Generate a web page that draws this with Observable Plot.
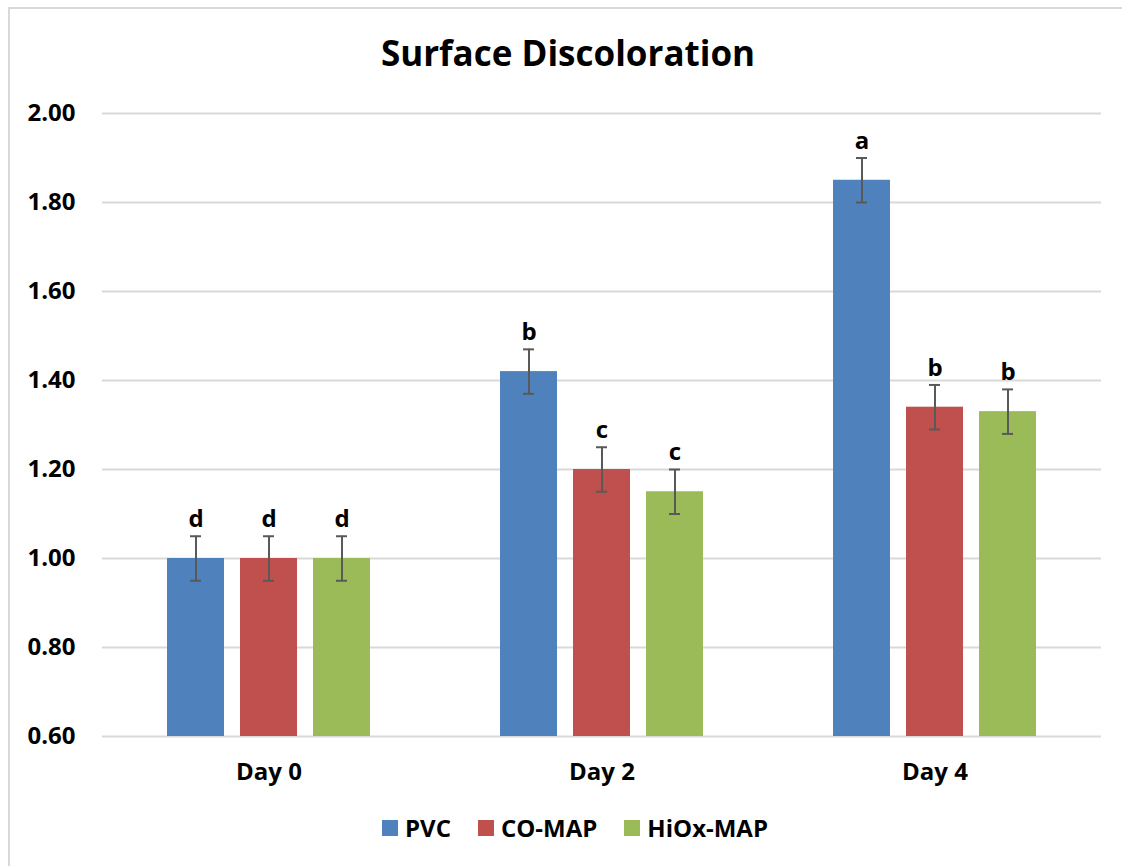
<!DOCTYPE html>
<html>
<head>
<meta charset="utf-8">
<script src="https://cdn.jsdelivr.net/npm/d3@7"></script>
<script src="https://cdn.jsdelivr.net/npm/@observablehq/plot@0.6"></script>
<style>
  html, body { margin: 0; padding: 0; background: #fff; }
  body { width: 1122px; height: 866px; position: relative; overflow: hidden; font-family: "Open Sans", sans-serif; }
  #frame { position: absolute; left: 8px; top: 7px; right: -5px; bottom: -5px; border-top: 2px solid #d9d9d9; border-left: 2px solid #d9d9d9; }
  #title { position: absolute; left: 0; width: 1136px; top: 29px; text-align: center; font-weight: 700; font-size: 35px; color: #000; }
  #chart { position: absolute; left: 0; top: 0; }
  #legend { position: absolute; top: 811px; left: 0; width: 1122px; display: flex; justify-content: center; gap: 27px; font-weight: 700; font-size: 24px; margin-left: 14px; }
  #legend .item { display: flex; align-items: center; }
  #legend .sw { width: 16px; height: 16px; margin-right: 7px; }
</style>
</head>
<body>
<div id="frame"></div>
<div id="chart"></div>
<div id="title">Surface Discoloration</div>
<div id="legend"></div>
<script>
const days = ["Day 0", "Day 2", "Day 4"];
const series = ["PVC", "CO-MAP", "HiOx-MAP"];
const colors = ["#4F81BD", "#C0504D", "#9BBB59"];
const pvc = [1.00, 1.42, 1.85];
const coMap = [1.00, 1.20, 1.34];
const hiOx = [1.00, 1.15, 1.33];
const errPvc = [0.05, 0.05, 0.05];
const errCo = [0.05, 0.05, 0.05];
const errHi = [0.05, 0.05, 0.05];
const lettersPvc = ["d", "b", "a"];
const lettersCo = ["d", "c", "b"];
const lettersHi = ["d", "c", "b"];
const yTicks = [0.6, 0.8, 1.0, 1.2, 1.4, 1.6, 1.8, 2.0];

const valueSets = [pvc, coMap, hiOx];
const errSets = [errPvc, errCo, errHi];
const letterSets = [lettersPvc, lettersCo, lettersHi];
const data = [];
days.forEach((d, i) => {
  series.forEach((s, j) => {
    data.push({day: d, series: s, value: valueSets[j][i], err: errSets[j][i], letter: letterSets[j][i]});
  });
});

const plot = Plot.plot({
  width: 1122,
  height: 790,
  marginLeft: 101,
  marginRight: 20,
  marginTop: 113,
  marginBottom: 54,
  style: {fontFamily: "'Open Sans', sans-serif", background: "transparent"},
  fx: {domain: days, padding: 0, label: null},
  x: {domain: series, axis: null, paddingInner: 0.216, paddingOuter: 0.864},
  y: {domain: [0.6, 2.0], label: null},
  color: {domain: series, range: colors},
  marks: [
    Plot.ruleY(yTicks, {stroke: "#d9d9d9", strokeWidth: 2}),
    Plot.barY(data, {fx: "day", x: "series", y1: 0.6, y2: "value", fill: "series"}),
    Plot.ruleX(data, {fx: "day", x: "series", y1: d => d.value - d.err, y2: d => d.value + d.err, stroke: "#595959", strokeWidth: 2}),
    Plot.tickY(data, {fx: "day", x: "series", y: d => d.value - d.err, stroke: "#595959", strokeWidth: 2, insetLeft: 23, insetRight: 23}),
    Plot.tickY(data, {fx: "day", x: "series", y: d => d.value + d.err, stroke: "#595959", strokeWidth: 2, insetLeft: 23, insetRight: 23}),
    Plot.text(data, {fx: "day", x: "series", y: d => d.value + d.err, text: "letter", dy: -17, fontSize: 24, fontWeight: "bold", fill: "#000"}),
    Plot.axisY({ticks: yTicks, tickFormat: d3.format(".2f"), tickSize: 0, tickPadding: 27, fontSize: 24, fontWeight: "bold", color: "#000", label: null}),
    Plot.axisFx({anchor: "bottom", tickSize: 0, tickPadding: 26, fontSize: 24, fontWeight: "bold", color: "#000", label: null})
  ]
});
document.getElementById("chart").appendChild(plot);

const legend = document.getElementById("legend");
series.forEach((s, i) => {
  const item = document.createElement("div");
  item.className = "item";
  const sw = document.createElement("div");
  sw.className = "sw";
  sw.style.background = colors[i];
  const t = document.createElement("span");
  t.textContent = s;
  item.appendChild(sw);
  item.appendChild(t);
  legend.appendChild(item);
});
</script>
</body>
</html>
